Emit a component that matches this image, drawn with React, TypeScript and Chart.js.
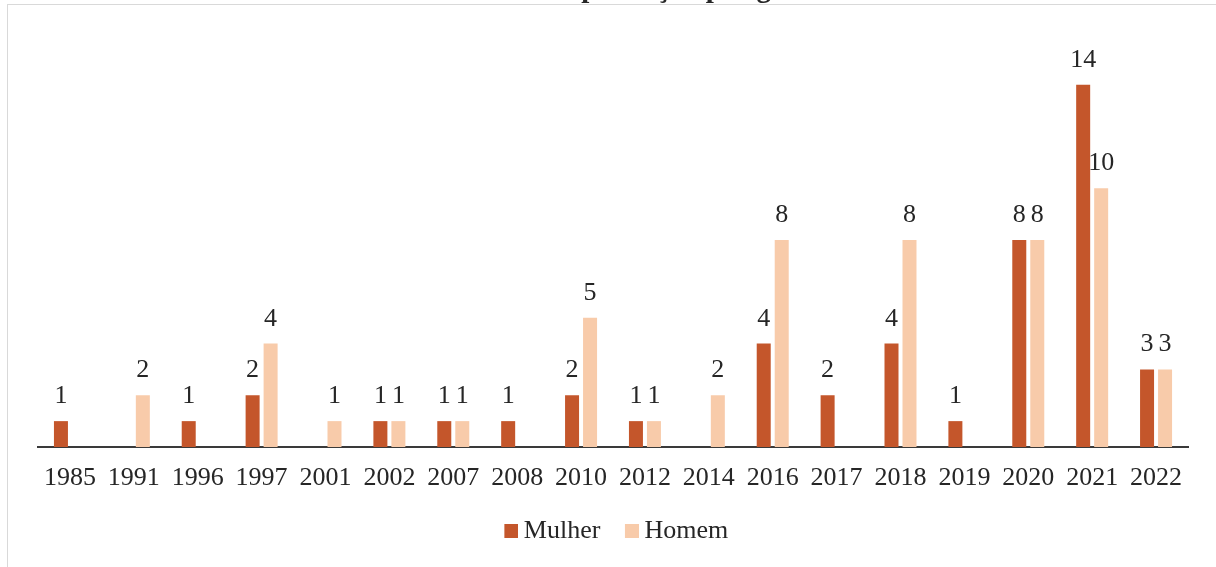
import { useEffect, useRef } from "react";
import { Chart, registerables } from "chart.js";

Chart.register(...registerables);

const categories = ["1985", "1991", "1996", "1997", "2001", "2002", "2007", "2008", "2010", "2012", "2014", "2016", "2017", "2018", "2019", "2020", "2021", "2022"];
const mulher = [1, null, 1, 2, null, 1, 1, 1, 2, 1, null, 4, 2, 4, 1, 8, 14, 3];
const homem = [null, 2, null, 4, 1, 1, 1, null, 5, 1, 2, 8, null, 8, null, 8, 10, 3];
const seriesNames = ["Mulher", "Homem"];
const seriesColors = ["#C4562B", "#F8CBAA"];
const titleText = "Ocorrências de produção por gênero";
const yMin = 0;
const yMax = 16;

const FONT = "'Liberation Serif', 'Times New Roman', serif";
const TEXT = "#262626";

export default function App() {
  const ref = useRef<HTMLCanvasElement | null>(null);

  useEffect(() => {
    document.body.style.margin = "0";
    const canvas = ref.current!;
    const boxes = seriesColors.map((c) => {
      const b = document.createElement("canvas");
      b.width = 16;
      b.height = 14;
      const bc = b.getContext("2d")!;
      bc.fillStyle = c;
      bc.fillRect(2, 0, 14, 14);
      return b;
    });

    const framePlugin = {
      id: "frame",
      beforeDraw(chart: any) {
        const ctx = chart.ctx;
        ctx.save();
        ctx.fillStyle = "#ffffff";
        ctx.fillRect(0, 0, chart.width, chart.height);
        ctx.strokeStyle = "#d9d9d9";
        ctx.lineWidth = 1;
        ctx.strokeRect(7.5, 4.5, chart.width + 20, chart.height + 20);
        ctx.restore();
      },
    };

    const legendShift = {
      id: "legendShift",
      afterLayout(chart: any) {
        if (chart.legend) {
          chart.legend.left += 6;
          chart.legend.right += 6;
        }
      },
    };

    const titlePlugin = {
      id: "cutTitle",
      afterDraw(chart: any) {
        const ctx = chart.ctx;
        ctx.save();
        ctx.font = `bold 29px ${FONT}`;
        ctx.fillStyle = TEXT;
        ctx.textAlign = "center";
        ctx.textBaseline = "alphabetic";
        ctx.fillText(titleText, (chart.chartArea.left + chart.chartArea.right) / 2, -3);
        ctx.restore();
      },
    };

    const valuePlugin = {
      id: "values",
      afterDatasetsDraw(chart: any) {
        const ctx = chart.ctx;
        ctx.save();
        ctx.font = `26px ${FONT}`;
        ctx.fillStyle = TEXT;
        ctx.textAlign = "center";
        ctx.textBaseline = "alphabetic";
        chart.data.datasets.forEach((ds: any, di: number) => {
          const meta = chart.getDatasetMeta(di);
          meta.data.forEach((el: any, i: number) => {
            const v = ds.data[i];
            if (v === null || v === undefined) return;
            ctx.fillText(String(v), el.x, el.y - 18);
          });
        });
        ctx.restore();
      },
    };

    const chart = new Chart(canvas, {
      type: "bar",
      data: {
        labels: categories,
        datasets: [
          { label: seriesNames[0], data: mulher, backgroundColor: seriesColors[0], categoryPercentage: 0.5634, barPercentage: 0.778 },
          { label: seriesNames[1], data: homem, backgroundColor: seriesColors[1], categoryPercentage: 0.5634, barPercentage: 0.778 },
        ],
      },
      options: {
        responsive: false,
        animation: false,
        devicePixelRatio: 1,
        layout: { padding: { left: 38, right: 28, top: 33, bottom: 19 } },
        plugins: {
          title: { display: false },
          tooltip: { enabled: false },
          legend: {
            display: true,
            position: "bottom",
            maxHeight: 60,
            labels: {
              font: { family: FONT, size: 26 },
              color: TEXT,
              usePointStyle: true,
              boxWidth: 1,
              boxHeight: 14,
              padding: 30,
              generateLabels(ch: any) {
                const items = (Chart.defaults.plugins.legend.labels as any).generateLabels(ch);
                items.forEach((it: any, i: number) => {
                  it.pointStyle = boxes[i];
                });
                return items;
              },
            },
          },
        },
        scales: {
          x: {
            grid: { display: false, drawTicks: false },
            border: { display: true, color: "#3a3a3a", width: 2 },
            ticks: {
              font: { family: FONT, size: 26 },
              color: TEXT,
              padding: 16,
              maxRotation: 0,
              autoSkip: false,
            },
            afterFit(scale: any) {
              scale.height = 41;
            },
          },
          y: { display: false, min: yMin, max: yMax },
        },
      },
      plugins: [framePlugin, legendShift, titlePlugin, valuePlugin],
    } as any);

    return () => chart.destroy();
  }, []);

  return (
    <div style={{ position: "fixed", left: 0, top: 0, width: 1216, height: 567, overflow: "hidden" }}>
      <canvas ref={ref} width={1216} height={567} style={{ display: "block", width: 1216, height: 567 }} />
    </div>
  );
}
